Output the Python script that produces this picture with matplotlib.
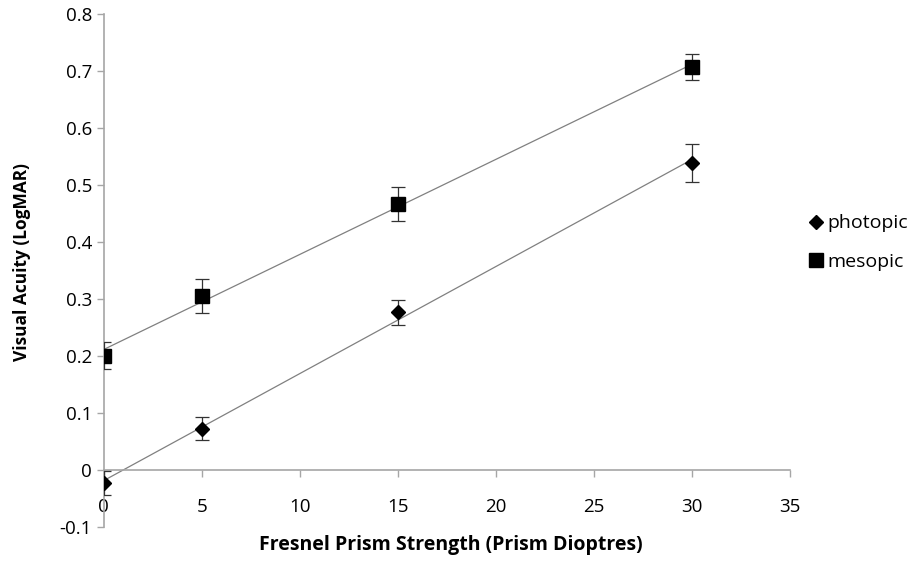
import matplotlib.pyplot as plt
import numpy as np

plt.rcParams['font.family'] = ['Open Sans', 'DejaVu Sans']

# data
prism = [0, 5, 15, 30]
photopic = [-0.023, 0.072, 0.276, 0.538]
photopic_err = [0.021, 0.02, 0.022, 0.034]
mesopic = [0.200, 0.305, 0.466, 0.707]
mesopic_err = [0.024, 0.03, 0.03, 0.023]

x_ticks = [0, 5, 10, 15, 20, 25, 30, 35]
y_ticks = [-0.1, 0, 0.1, 0.2, 0.3, 0.4, 0.5, 0.6, 0.7, 0.8]
y_labels = ['-0.1', '0', '0.1', '0.2', '0.3', '0.4', '0.5', '0.6', '0.7', '0.8']

fig = plt.figure(figsize=(9.11, 5.72), dpi=100)
ax = fig.add_axes([0.114, 0.079, 0.753, 0.897])

x = np.array(prism)
xfit = np.array([0, 30])

# trend lines
for vals in [photopic, mesopic]:
    k, b = np.polyfit(x, vals, 1)
    ax.plot(xfit, k * xfit + b, color='#808080', lw=0.9, zorder=2)

ax.errorbar(x, photopic, yerr=photopic_err, fmt='D', color='black', ms=7.5,
            ecolor='#333333', elinewidth=0.9, capsize=5, capthick=0.9,
            label='photopic', zorder=3)
ax.errorbar(x, mesopic, yerr=mesopic_err, fmt='s', color='black', ms=9.5,
            ecolor='#333333', elinewidth=0.9, capsize=5, capthick=0.9,
            label='mesopic', zorder=3)

ax.set_xlim(0, 35)
ax.set_ylim(-0.1, 0.8)
ax.set_xticks(x_ticks)
ax.set_yticks(y_ticks)
ax.set_yticklabels(y_labels)

# axes cross at zero
ax.spines['left'].set_position(('data', 0))
ax.spines['bottom'].set_position(('data', 0))
for s in ['top', 'right']:
    ax.spines[s].set_visible(False)
for s in ['left', 'bottom']:
    ax.spines[s].set_color('#a6a6a6')
    ax.spines[s].set_linewidth(1.2)

ax.tick_params(axis='both', direction='out', length=5, color='#a6a6a6',
               labelsize=13.5, width=1)
ax.tick_params(axis='x', pad=15)

fig.text(0.495, 0.047, 'Fresnel Prism Strength (Prism Dioptres)', ha='center',
         va='center', fontsize=14, fontweight='bold')
fig.text(0.024, 0.542, 'Visual Acuity (LogMAR)', ha='center', va='center',
         rotation=90, fontsize=12.5, fontweight='bold')

handles, labels = ax.get_legend_handles_labels()
handles = [h[0] for h in handles]
fig.legend(handles, labels, loc='center left', bbox_to_anchor=(0.866, 0.576),
           frameon=False, fontsize=14, handletextpad=0.1, handlelength=1.0,
           labelspacing=1.05)

fig.savefig('out.png', dpi=100)
